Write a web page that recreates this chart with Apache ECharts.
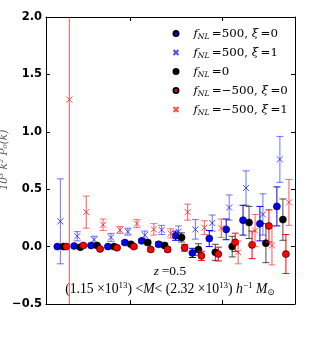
<!DOCTYPE html>
<html><head><meta charset="utf-8">
<script src="https://cdn.jsdelivr.net/npm/echarts@6/dist/echarts.min.js"></script>
<style>html,body{margin:0;padding:0;background:#fff}#c{width:311px;height:348px}</style>
</head><body><div id="c"></div>
<script>
// k bins (h/Mpc), log-spaced
const kBins = [0.00183,0.00280,0.00428,0.00656,0.01005,0.01538,0.02355,0.0361,0.0552,0.0845,0.1294,0.198,0.303,0.465];
const xTickK = [0.01, 0.1];
const yTicks = [-0.5, 0, 0.5, 1.0, 1.5, 2.0];

const blueDotY   = [0.0, 0.005, 0.01, 0.0, 0.035, 0.05, 0.02, 0.095, -0.055, 0.07, 0.15, 0.23, 0.2, 0.35];
const blueDotErr = [0.01, 0.01, 0.01, 0.01, 0.015, 0.015, 0.02, 0.04, 0.04, 0.07, 0.09, 0.13, 0.15, 0.17];
const blueXY     = [0.22, 0.09, 0.06, 0.08, 0.13, 0.10, 0.145, 0.13, 0.15, 0.205, 0.34, 0.51, 0.28, 0.76];
const blueXErr   = [0.37, 0.04, 0.03, 0.035, 0.03, 0.035, 0.04, 0.05, 0.085, 0.07, 0.11, 0.15, 0.18, 0.2];
const blackY     = [0.0, -0.005, 0.01, 0.0, 0.02, 0.035, 0.01, 0.08, -0.025, -0.05, 0.0, 0.21, 0.03, 0.235];
const blackErr   = [0.01, 0.01, 0.01, 0.01, 0.015, 0.02, 0.02, 0.04, 0.05, 0.07, 0.09, 0.14, 0.17, 0.18];
const redDotY    = [0.0, 0.01, -0.02, -0.01, 0.0, -0.025, -0.025, -0.01, -0.08, -0.065, 0.037, 0.015, 0.18, -0.065];
const redDotErr  = [0.01, 0.01, 0.01, 0.01, 0.015, 0.015, 0.02, 0.03, 0.04, 0.06, 0.08, 0.12, 0.14, 0.17];
const redXY      = [1.28, 0.30, 0.19, 0.145, 0.2, 0.15, 0.115, 0.30, 0.165, 0.16, -0.05, 0.14, 0.01, 0.385];
const redXErr    = [3.0, 0.14, 0.05, 0.03, 0.035, 0.05, 0.04, 0.07, 0.06, 0.08, 0.1, 0.14, 0.17, 0.2];

const legendLabels = [
  ['500', '0'], ['500', '1'], ['0', null], ['\u2212500', '0'], ['\u2212500', '1']
];

const serif = '"DejaVu Serif", "Liberation Serif", serif';
const serif2 = '"Liberation Serif", "DejaVu Serif", serif';
const xPath = 'path://M0,0L10,10M10,0L0,10';

const groups = [
  {name:'a', y:blueDotY, e:blueDotErr, dodge:-0.066, sym:'circle', size:7, fill:'#0000ff', edge:'#000', edgeW:0.6, err:'#0000ff', ew:1},
  {name:'b', y:blueXY, e:blueXErr, dodge:-0.033, sym:xPath, size:6, fill:'none', edge:'rgba(30,30,255,0.8)', edgeW:1, err:'rgba(0,0,255,0.55)', ew:1},
  {name:'c', y:blackY, e:blackErr, dodge:0, sym:'circle', size:7, fill:'#000', edge:'#000', edgeW:0.6, err:'rgba(0,0,0,0.7)', ew:1},
  {name:'d', y:redDotY, e:redDotErr, dodge:0.033, sym:'circle', size:7, fill:'#ff0000', edge:'#000', edgeW:0.6, err:'#ff0000', ew:1},
  {name:'e', y:redXY, e:redXErr, dodge:0.066, sym:xPath, size:6, fill:'none', edge:'rgba(255,30,30,0.8)', edgeW:1, err:'rgba(255,20,20,0.6)', ew:1.2}
];

function errRender(color, w){
  return function(params, api){
    const x = api.value(0), y = api.value(1), e = api.value(2);
    const p1 = api.coord([x, y + e]), p2 = api.coord([x, y - e]);
    const cs = params.coordSys;
    const top = Math.max(p1[1], cs.y), bot = Math.min(p2[1], cs.y + cs.height);
    const st = {stroke: color, lineWidth: w};
    const ch = [{type:'line', shape:{x1:p1[0], y1:top, x2:p1[0], y2:bot}, style:st}];
    if (p1[1] >= cs.y) ch.push({type:'line', shape:{x1:p1[0]-3.5, y1:p1[1], x2:p1[0]+3.5, y2:p1[1]}, style:{stroke:color, lineWidth:1}});
    if (p2[1] <= cs.y + cs.height) ch.push({type:'line', shape:{x1:p2[0]-3.5, y1:p2[1], x2:p2[0]+3.5, y2:p2[1]}, style:{stroke:color, lineWidth:1}});
    return {type:'group', children: ch};
  };
}

const series = [];
groups.forEach((g, gi) => {
  const pts = kBins.map((k, i) => [Math.log10(k) + g.dodge, g.y[i], g.e[i]]);
  series.push({
    type:'custom', name: g.name + '_err', data: pts, renderItem: errRender(g.err, g.ew),
    z: 2 + gi * 2, silent: true, encode:{x:0, y:1}
  });
  series.push({
    type:'scatter', name: g.name, data: pts.map(p => [p[0], p[1]]), symbol: g.sym, symbolSize: g.size,
    itemStyle:{color: g.fill, borderColor: g.edge, borderWidth: g.edgeW, opacity: 1},
    z: 3 + gi * 2, silent: true, clip: true
  });
});

function legendText(name){
  const i = ['a','b','c','d','e'].indexOf(name);
  const L = legendLabels[i];
  let s = '{f|f}{s|NL}{n|\u2009=' + L[0] + '}';
  if (L[1] !== null) s += '{n|, }{f|\u03be}{n|\u2009=' + L[1] + '}';
  return s;
}

const axisCommon = {
  axisLine:{show:true, onZero:false, lineStyle:{color:'#000', width:1}},
  splitLine:{show:false}
};

const chart = echarts.init(document.getElementById('c'), null, {renderer:'canvas'});
chart.setOption({
  animation:false,
  backgroundColor:'#fff',
  grid:{left:46, right:16, top:17, bottom:44, containLabel:false},
  xAxis:[
    Object.assign({type:'value', position:'bottom', min:-2.928, max:-0.2,
      axisLabel:{show:false},
      axisTick:{show:true, inside:true, length:4, lineStyle:{color:'#000'}, customValues: xTickK.map(Math.log10)}}, axisCommon),
    Object.assign({type:'value', position:'top', min:-2.928, max:-0.2,
      axisLabel:{show:false},
      axisTick:{show:true, inside:true, length:4, lineStyle:{color:'#000'}, customValues: xTickK.map(Math.log10)}}, axisCommon)
  ],
  yAxis:[
    Object.assign({type:'value', position:'left', min:yTicks[0], max:yTicks[yTicks.length-1], interval:0.5,
      axisTick:{show:true, inside:true, length:4, lineStyle:{color:'#000'}},
      axisLabel:{show:true, color:'#000', fontFamily:'"DejaVu Sans", sans-serif', fontWeight:'bold', fontSize:11.5, margin:4,
        formatter: v => (v < 0 ? '\u2212' : '') + Math.abs(v).toFixed(1)}}, axisCommon),
    Object.assign({type:'value', position:'right', min:yTicks[0], max:yTicks[yTicks.length-1], interval:0.5,
      axisTick:{show:true, inside:true, length:4, lineStyle:{color:'#000'}},
      axisLabel:{show:false}}, axisCommon)
  ],
  legend:{
    data:['a','b','c','d','e'], orient:'vertical', left:166, top:22, itemWidth:5, itemHeight:5, itemGap:5,
    selectedMode:false,
    formatter: legendText,
    textStyle:{color:'#000', padding:[0,0,0,10], rich:{
      f:{fontFamily:serif, fontStyle:'italic', fontSize:11.8, lineHeight:15},
      s:{fontFamily:serif, fontStyle:'italic', fontSize:7.5, lineHeight:15, verticalAlign:'bottom', padding:[6,0,0,0]},
      n:{fontFamily:serif, fontSize:11.8, lineHeight:15}
    }}
  },
  graphic:[
    {type:'text', x:170, y:271, style:{text:'{i|z}{n|\u2009=0.5}', align:'center', verticalAlign:'middle',
      rich:{i:{fontFamily:serif2, fontStyle:'italic', fontSize:13.5, fill:'#000'}, n:{fontFamily:serif2, fontSize:13.5, fill:'#000'}}}},
    {type:'text', x:170, y:289, style:{
      text:'{n|(1.15 \u00d710}{p|13}{n|) <}{i|M}{n|< (2.32 \u00d710}{p|13}{n|) }{i|h}{p|\u22121}{n| }{i|M}{b|\u2299}',
      align:'center', verticalAlign:'middle',
      rich:{
        i:{fontFamily:serif2, fontStyle:'italic', fontSize:13.7, lineHeight:16, fill:'#000'},
        n:{fontFamily:serif2, fontSize:13.7, lineHeight:16, fill:'#000'},
        p:{fontFamily:serif2, fontSize:9, lineHeight:16, verticalAlign:'top', fill:'#000'},
        b:{fontFamily:serif2, fontSize:9, lineHeight:16, verticalAlign:'bottom', fill:'#000', padding:[5,0,0,0]}
      }}},
    {type:'text', x:4, y:160, rotation:Math.PI/2, style:{text:'10\u00b3 k\u00b2 P\u2080(k)', align:'center', verticalAlign:'middle',
      fontFamily:serif, fontStyle:'italic', fontSize:10.5, fill:'#555'}}
  ],
  series: series
});
</script>
</body></html>
